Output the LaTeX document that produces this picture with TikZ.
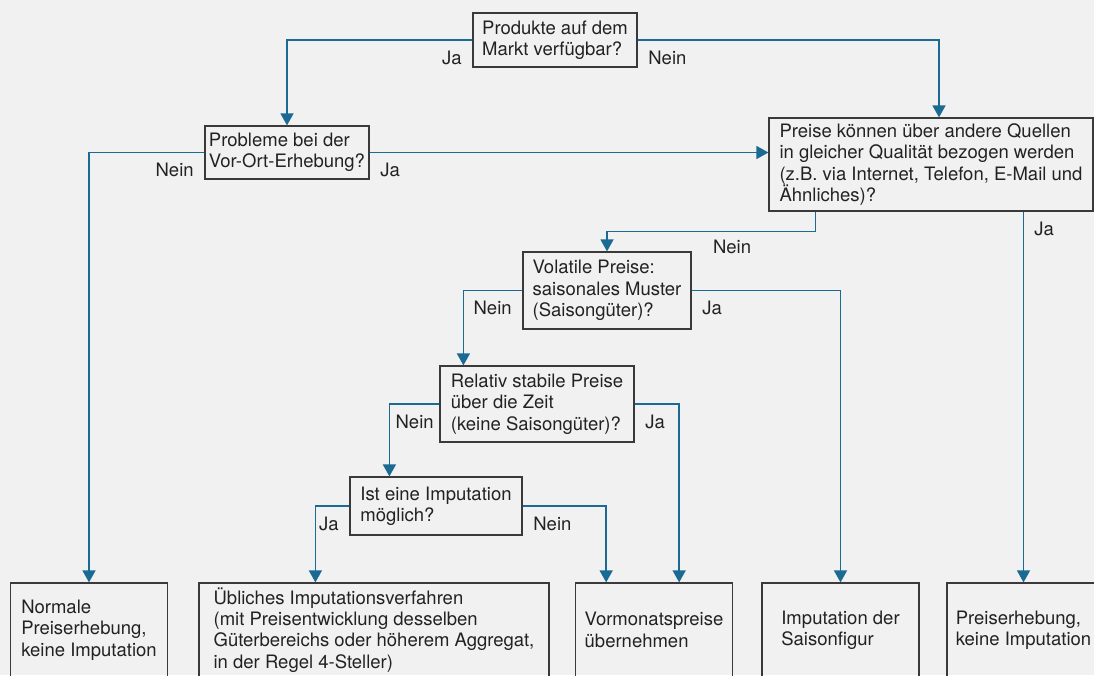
\documentclass[tikz,border=0pt]{standalone}
\usepackage{fontspec}
\setmainfont{TeX Gyre Heros}
\usepackage{xcolor}
\usetikzlibrary{arrows.meta}
\definecolor{bggray}{HTML}{F1F1F1}
\definecolor{flowblue}{HTML}{1B6A93}
\definecolor{boxgray}{HTML}{3A3A3A}
\definecolor{txtgray}{HTML}{222222}
\tikzset{
  qbox/.style={draw=boxgray, line width=1.2pt, align=left, inner sep=0pt,
    text=txtgray, font=\fontsize{18.5}{21.3}\selectfont},
  endbox/.style={qbox, minimum height=94pt},
  flow/.style={draw=flowblue, line width=1.5pt, -{Triangle[length=12pt,width=13pt]}},
  lbl/.style={text=txtgray, inner sep=10pt, font=\fontsize{18.5}{21.3}\selectfont}
}

\begin{document}
\begin{tikzpicture}[x=1pt,y=-1pt]
\path[fill=bggray, use as bounding box] (0,0) rectangle (1094,675);

\node[qbox, minimum width=164pt, minimum height=54pt] (markt) at (555,40) {Produkte auf dem\\Markt verfügbar?};
\node[qbox, minimum width=164pt, minimum height=53pt] (vorort) at (287,152.5) {Probleme bei der\\Vor-Ort-Erhebung?};
\node[qbox, minimum width=324pt, minimum height=93pt] (quellen) at (931,164.5) {Preise können über andere Quellen\\in gleicher Qualität bezogen werden\\(z.B. via Internet, Telefon, E-Mail und\\Ähnliches)?};
\node[qbox, minimum width=168pt, minimum height=77pt] (volatil) at (607,290.5) {Volatile Preise:\\saisonales Muster\\(Saisongüter)?};
\node[qbox, minimum width=194pt, minimum height=76pt] (stabil) at (537,404) {Relativ stabile Preise\\über die Zeit\\(keine Saisongüter)?};
\node[qbox, minimum width=172pt, minimum height=58pt] (moeglich) at (436,506) {Ist eine Imputation\\möglich?};

\node[endbox, minimum width=156.5pt] (normal) at (89,630) {Normale\\Preiserhebung,\\keine Imputation};
\node[endbox, minimum width=350pt] (ueblich) at (374,630) {Übliches Imputationsverfahren\\(mit Preisentwicklung desselben\\Güterbereichs oder höherem Aggregat,\\in der Regel 4-Steller)};
\node[endbox, minimum width=156.5pt] (vormonat) at (654,630) {Vormonatspreise\\übernehmen};
\node[endbox, minimum width=157pt] (saison) at (840.5,630) {Imputation der\\Saisonfigur};
\node[endbox, minimum width=153pt] (preis) at (1023.5,630) {Preiserhebung,\\keine Imputation};

\draw[flow] (markt.west) node[lbl, below left] {Ja} -| (vorort.north);
\draw[flow] (markt.east) node[lbl, below right] {Nein} -| ([xshift=8pt]quellen.north);
\draw[flow] (vorort.west) node[lbl, below left] {Nein} -| (normal.north);
\draw[flow] (vorort.east) node[lbl, below right] {Ja} -- (vorort.east -| quellen.west);
\draw[flow] ([xshift=47pt]quellen.south west) -- ++(0,20) -| node[lbl, pos=0.2, below, inner sep=8pt] {Nein} (volatil.north);
\draw[flow] (quellen.south -| preis.north) node[lbl, below right] {Ja} -- (preis.north);
\draw[flow] (volatil.west) node[lbl, below left] {Nein} -| ([xshift=24pt]stabil.north west);
\draw[flow] (volatil.east) node[lbl, below right] {Ja} -| (saison.north);
\draw[flow] (stabil.west) node[lbl, below left, xshift=5pt] {Nein} -| ([xshift=40pt]moeglich.north west);
\draw[flow] (stabil.east) node[lbl, below right] {Ja} -| ([xshift=104pt]vormonat.north west);
\draw[flow] (moeglich.west) node[lbl, below left] {Ja} -| ([xshift=117pt]ueblich.north west);
\draw[flow] (moeglich.east) node[lbl, below right] {Nein} -| ([xshift=31pt]vormonat.north west);
\end{tikzpicture}
\end{document}
